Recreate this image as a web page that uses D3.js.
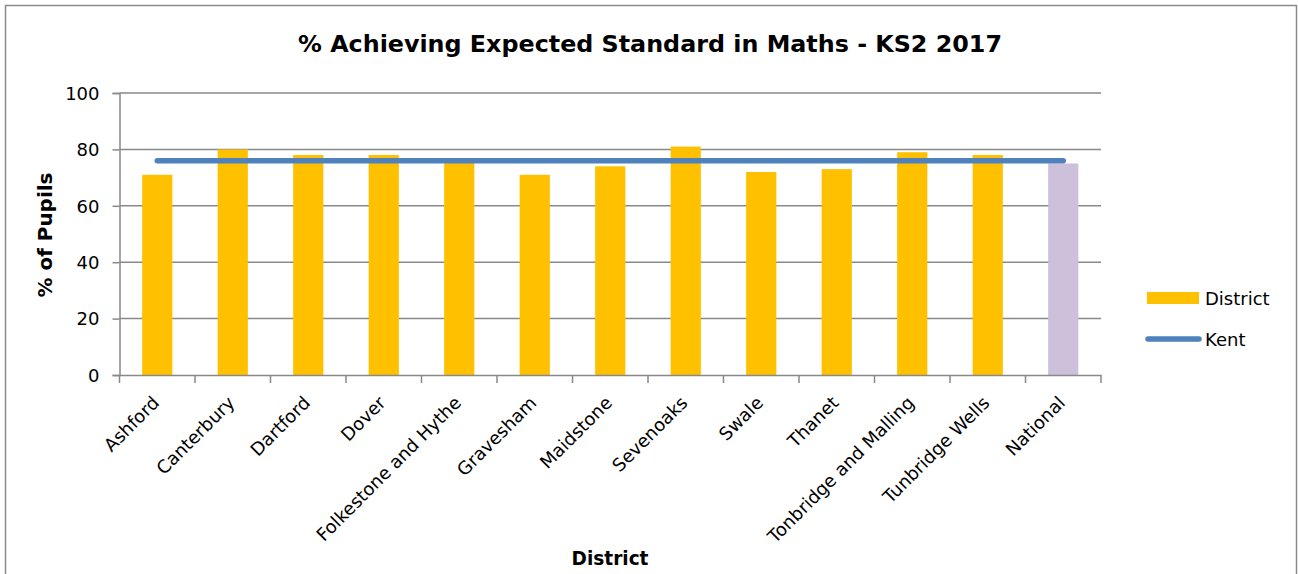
<!DOCTYPE html>
<html>
<head>
<meta charset="utf-8">
<script src="https://cdn.jsdelivr.net/npm/d3@7/dist/d3.min.js"></script>
<style>
  html, body { margin: 0; padding: 0; background: #fff; }
  svg { display: block; font-family: "DejaVu Sans", Verdana, sans-serif; }
</style>
</head>
<body>
<svg id="chart" width="1298" height="574"></svg>
<script>
// KS2 2017 maths: % of pupils reaching the expected standard
const districts = ["Ashford", "Canterbury", "Dartford", "Dover", "Folkestone and Hythe",
  "Gravesham", "Maidstone", "Sevenoaks", "Swale", "Thanet",
  "Tonbridge and Malling", "Tunbridge Wells", "National"];
const districtValues = [71, 80, 78, 78, 76, 71, 74, 81, 72, 73, 79, 78, 75];
const kentValue = 76;
const yTicks = [0, 20, 40, 60, 80, 100];
const titleText = "% Achieving Expected Standard in Maths - KS2 2017";
const yTitle = "% of Pupils";
const xTitle = "District";
const seriesNames = ["District", "Kent"];

const colors = { district: "#FFC000", national: "#CCC0DA", kent: "#4F81BD", grid: "#898989", text: "#000" };

const svg = d3.select("#chart");
const plot = { left: 119.5, right: 1101, top: 93, bottom: 375 };

// scale a text element's font size so it spans the given width
function fitWidth(sel, target) {
  const node = sel.node();
  const size = parseFloat(sel.attr("font-size"));
  const w = node.getComputedTextLength();
  sel.attr("font-size", (size * target / w).toFixed(2));
}

// outer frame
svg.append("rect")
  .attr("x", 5.5).attr("y", 5.5).attr("width", 1291).attr("height", 600)
  .attr("fill", "#fff").attr("stroke", "#8a8a8a").attr("stroke-width", 1.5);

const x = d3.scaleBand().domain(districts).range([plot.left, plot.right])
  .paddingInner(0.6).paddingOuter(0.3);
const y = d3.scaleLinear().domain([0, 100]).range([plot.bottom, plot.top]);

// gridlines
svg.append("g").selectAll("line").data(yTicks.filter(d => d > 0)).join("line")
  .attr("x1", plot.left).attr("x2", plot.right)
  .attr("y1", d => y(d)).attr("y2", d => y(d))
  .attr("stroke", colors.grid).attr("stroke-width", 1.5);

// bars
svg.append("g").selectAll("rect").data(districts).join("rect")
  .attr("x", d => x(d))
  .attr("y", (d, i) => y(districtValues[i]))
  .attr("width", x.bandwidth())
  .attr("height", (d, i) => y(0) - y(districtValues[i]))
  .attr("fill", d => d === "National" ? colors.national : colors.district);

// Kent average line
const kentLine = d3.line().x(d => x(d) + x.bandwidth() / 2).y(() => y(kentValue));
svg.append("path")
  .attr("d", kentLine([districts[0], districts[districts.length - 1]]))
  .attr("fill", "none").attr("stroke", colors.kent)
  .attr("stroke-width", 5.5).attr("stroke-linecap", "round");

// y axis
const yAxis = svg.append("g").attr("transform", `translate(${plot.left},0)`)
  .call(d3.axisLeft(y).tickValues(yTicks).tickSize(7).tickPadding(13).tickFormat(d3.format("d")));
yAxis.select(".domain").attr("stroke", colors.grid).attr("stroke-width", 1.5);
yAxis.selectAll(".tick line").attr("stroke", colors.grid).attr("stroke-width", 1.5);
yAxis.selectAll(".tick text").attr("font-size", 18).attr("fill", colors.text)
  .attr("font-family", "DejaVu Sans").attr("dy", "0.35em");

// x axis: baseline plus ticks between categories
const xAxis = svg.append("g").attr("transform", `translate(0,${plot.bottom})`)
  .call(d3.axisBottom(x).tickSize(0).tickPadding(0));
xAxis.select(".domain").attr("stroke", colors.grid).attr("stroke-width", 1.5);
const step = x.step();
xAxis.selectAll(".sep").data(d3.range(districts.length + 1)).join("line")
  .attr("class", "sep")
  .attr("x1", i => plot.left + i * step).attr("x2", i => plot.left + i * step)
  .attr("y1", 0).attr("y2", 8)
  .attr("stroke", colors.grid).attr("stroke-width", 1.5);
xAxis.selectAll(".tick text")
  .attr("font-size", 18).attr("font-family", "DejaVu Sans").attr("fill", colors.text)
  .attr("text-anchor", "end")
  .attr("y", 0).attr("dy", "0")
  .attr("transform", "translate(3,29) rotate(-45)");

// title
const title = svg.append("text").attr("x", 650).attr("y", 52)
  .attr("text-anchor", "middle").attr("font-weight", "bold").attr("font-size", 20)
  .attr("fill", colors.text).text(titleText);
fitWidth(title, 704);

// axis titles
const yt = svg.append("text")
  .attr("transform", "translate(52,235) rotate(-90)")
  .attr("text-anchor", "middle").attr("font-weight", "bold").attr("font-size", 18)
  .attr("fill", colors.text).text(yTitle);
fitWidth(yt, 125);

const xt = svg.append("text").attr("x", 610).attr("y", 565)
  .attr("text-anchor", "middle").attr("font-weight", "bold").attr("font-size", 18)
  .attr("fill", colors.text).text(xTitle);
fitWidth(xt, 77);

// legend
const legend = svg.append("g");
legend.append("rect").attr("x", 1147).attr("y", 292).attr("width", 52).attr("height", 12)
  .attr("fill", colors.district);
legend.append("line").attr("x1", 1148).attr("x2", 1199).attr("y1", 339).attr("y2", 339)
  .attr("stroke", colors.kent).attr("stroke-width", 5.5).attr("stroke-linecap", "round");
legend.selectAll("text.lg").data(seriesNames).join("text").attr("class", "lg")
  .attr("x", 1205).attr("y", (d, i) => 304.5 + i * 41)
  .attr("font-size", 18).attr("fill", colors.text).text(d => d);
</script>
</body>
</html>
